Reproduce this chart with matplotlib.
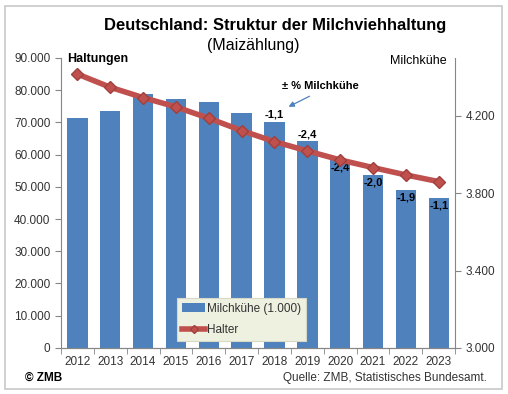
import numpy as np
import matplotlib
matplotlib.use("Agg")
from matplotlib import pyplot as plt
from matplotlib.patches import Rectangle, FancyArrowPatch

plt.rcParams['font.family'] = ['Liberation Sans', 'DejaVu Sans']

years = ['2012', '2013', '2014', '2015', '2016', '2017', '2018', '2019', '2020', '2021', '2022', '2023']
kuehe = [4190, 4226, 4314, 4288, 4272, 4215, 4169, 4068, 3972, 3893, 3817, 3777]
halter = [85000, 80890, 77680, 74790, 71270, 67440, 64020, 61130, 58340, 55960, 53680, 51610]
change_lbl = ['', '', '', '', '', '', '-1,1', '-2,4', '-2,4', '-2,0', '-1,9', '-1,1']
left_ticks = [0, 10000, 20000, 30000, 40000, 50000, 60000, 70000, 80000, 90000]
right_ticks = [3000, 3400, 3800, 4200]

blue = '#4F81BD'
red = '#C0504D'
grey = '#868686'

fig = plt.figure(figsize=(5.08, 3.94), dpi=100)
fig.patches.append(Rectangle((0.010, 0.013), 0.978, 0.972, transform=fig.transFigure,
                             fill=False, edgecolor='#C8C8C8', linewidth=1.2))

ax = fig.add_axes([0.120, 0.117, 0.776, 0.736])
ax2 = ax.twinx()
ax.set_zorder(ax2.get_zorder() + 1)
ax.patch.set_visible(False)

x = np.arange(len(years))
bars = ax2.bar(x, kuehe, width=0.62, color=blue, label='Milchkühe (1.000)')
ax2.set_ylim(3000, 4500)
ax2.set_yticks(right_ticks)
ax2.set_yticklabels([f'{t:,}'.replace(',', '.') for t in right_ticks])

# first two labels above the bar, the rest inside
for i, lbl in enumerate(change_lbl):
    if not lbl:
        continue
    if i < 8:
        ax2.text(i, kuehe[i] + 12, lbl, ha='center', va='bottom', fontsize=8, fontweight='bold')
    else:
        ax2.text(i, kuehe[i] - 12, lbl, ha='center', va='top', fontsize=8, fontweight='bold')

ax.plot(x, halter, color=red, linewidth=4, marker='D', markersize=6,
        markerfacecolor=red, markeredgecolor='#A0403D', label='Halter')
ax.set_ylim(0, 90000)
ax.set_yticks(left_ticks)
ax.set_yticklabels([f'{t:,}'.replace(',', '.') for t in left_ticks])
ax.set_xlim(-0.5, len(years) - 0.5)
ax.set_xticks(x)
ax.set_xticklabels(years)
ax.set_xticks(np.arange(-0.5, len(years)), minor=True)

for a in (ax, ax2):
    a.spines['top'].set_visible(False)
    for s in ('left', 'right', 'bottom'):
        a.spines[s].set_color(grey)
    a.tick_params(colors=grey, labelcolor='#333333', labelsize=8.5, length=4, width=0.8)
ax.tick_params(axis='x', which='major', length=0, pad=6)
ax.tick_params(axis='x', which='minor', length=4, color=grey)
ax.spines['right'].set_visible(False)
ax2.spines['left'].set_visible(False)

leg = ax.legend(handles=[bars, ax.lines[0]], loc='upper left',
                bbox_to_anchor=(177 / 508, 1 - 298 / 394), bbox_transform=fig.transFigure,
                fontsize=8.5, frameon=True, fancybox=False, facecolor='#EEF0E0',
                edgecolor='#D8D8C8', framealpha=1, handlelength=2.0, handletextpad=0.15,
                borderpad=0.4, borderaxespad=0, labelspacing=0.8, markerscale=0.7)
leg.get_frame().set_linewidth(0.8)
for t in leg.get_texts():
    t.set_color('#333333')

fig.text(0.541, 0.935, 'Deutschland: Struktur der Milchviehhaltung', ha='center', va='center',
         fontsize=11.9, fontweight='bold')
fig.text(0.498, 0.885, '(Maizählung)', ha='center', va='center', fontsize=11.5)
fig.text(67 / 508, 1 - 59 / 394, 'Haltungen', ha='left', va='center', fontsize=9, fontweight='bold')
fig.text(447 / 508, 1 - 61 / 394, 'Milchkühe', ha='right', va='center', fontsize=9)
fig.text(25 / 508, 1 - 378 / 394, '© ZMB', ha='left', va='center', fontsize=8.5, fontweight='bold')
fig.text(487 / 508, 1 - 378 / 394, 'Quelle: ZMB, Statistisches Bundesamt.', ha='right', va='center',
         fontsize=8.5, color='#333333')

fig.text(320 / 508, 1 - 86 / 394, '± % Milchkühe', ha='center', va='center', fontsize=8, fontweight='bold')
fig.add_artist(FancyArrowPatch((312 / 508, 1 - 95 / 394), (286 / 508, 1 - 108 / 394),
                               transform=fig.transFigure, arrowstyle='-|>',
                               mutation_scale=8, color=blue, linewidth=0.9))

fig.savefig('out.png', dpi=100)
